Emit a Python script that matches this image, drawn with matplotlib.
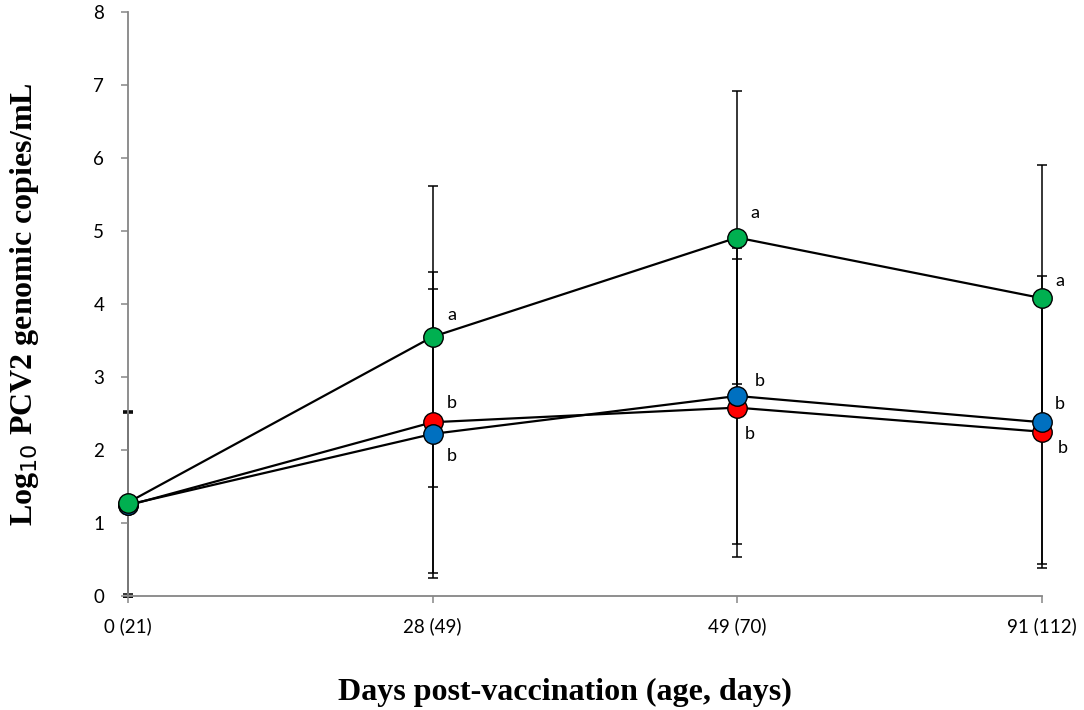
import matplotlib.pyplot as plt

# timepoints (days post-vaccination, age)
labels = ["0 (21)", "28 (49)", "49 (70)", "91 (112)"]
x = [0, 1, 2, 3]

# mean log10 PCV2 copies/mL
red = [1.24, 2.38, 2.58, 2.25]
blue = [1.25, 2.22, 2.74, 2.38]
green = [1.28, 3.55, 4.91, 4.08]

# error bar half-widths
red_err = [1.26, 2.06, 2.04, 1.81]
blue_err = [1.27, 1.98, 2.03, 2.00]
green_err = [1.25, 2.06, 2.01, 1.82]

# significance letters
red_txt = ["", "b", "b", "b"]
blue_txt = ["", "b", "b", "b"]
green_txt = ["", "a", "a", "a"]

fig = plt.figure(figsize=(10.84, 7.1), dpi=100)
ax = fig.add_axes([0.118, 0.1606, 0.843, 0.8225])

series = [
    (red, red_err, red_txt, "#FF0000", [(0, 0), (14, 14), (9, -19), (15, -12)]),
    (blue, blue_err, blue_txt, "#0070C0", [(0, 0), (14, -16), (16, 11), (13, 13)]),
    (green, green_err, green_txt, "#00B050", [(0, 0), (14, 16), (13, 18), (13, 12)]),
]

# error bars underneath everything
for vals, err, txt, col, offs in series:
    ax.errorbar(x, vals, yerr=err, fmt="none", ecolor="black", elinewidth=1.1,
                capsize=3.5, capthick=1.1, zorder=1, clip_on=False)

z = 3
for vals, err, txt, col, offs in series:
    ax.plot(x, vals, color="black", lw=1.6, zorder=2, clip_on=False)
    ax.plot(x, vals, "o", ms=14, mfc=col, mec="black", mew=1.0, zorder=z, clip_on=False)
    z += 1
    for i in range(len(x)):
        if txt[i]:
            ax.annotate(txt[i], (x[i], vals[i]), xytext=offs[i], textcoords="offset points",
                        ha="center", va="center", fontsize=13, family="Lato")

ax.set_xlim(0, 3)
ax.set_ylim(0, 8)
ax.set_xticks(x)
ax.set_xticklabels(labels)
ax.set_yticks(range(9))

for s in ["top", "right"]:
    ax.spines[s].set_visible(False)
for s in ["left", "bottom"]:
    ax.spines[s].set_color("#868686")
    ax.spines[s].set_linewidth(1.3)
ax.tick_params(colors="#868686", labelcolor="black", length=5, width=1.1, labelsize=13.5)
ax.tick_params(axis="x", pad=10)
ax.tick_params(axis="y", pad=12)
for t in ax.get_xticklabels() + ax.get_yticklabels():
    t.set_family("Lato")

ax.set_xlabel("Days post-vaccination (age, days)", fontsize=23, fontweight="bold",
              family="Liberation Serif")
ax.xaxis.set_label_coords(0.478, -0.14)
ax.set_ylabel("Log$_{10}$ PCV2 genomic copies/mL", fontsize=23, fontweight="bold",
              family="Liberation Serif")
ax.yaxis.set_label_coords(-0.095, 0.5)

fig.savefig("out.png", dpi=100)
